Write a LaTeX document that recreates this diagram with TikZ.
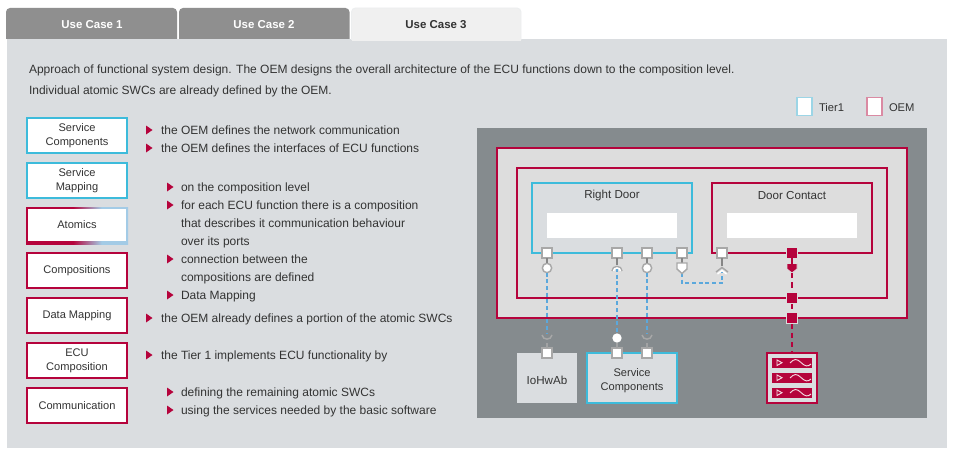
\documentclass[tikz,border=0pt]{standalone}
\usepackage{fontspec}
\setmainfont{Liberation Sans}
\definecolor{oem}{HTML}{B5033C}
\definecolor{tiercy}{HTML}{3DBBDB}
\definecolor{edgeblue}{HTML}{A3CBE6}
\definecolor{panel}{HTML}{DADDE0}
\definecolor{slate}{HTML}{858B8E}
\definecolor{layer}{HTML}{DDDDDD}
\definecolor{tabdark}{HTML}{8F8F8F}
\definecolor{tablight}{HTML}{F0F0F0}
\definecolor{ink}{HTML}{333333}
\definecolor{wire}{HTML}{5BA8DC}
\definecolor{portedge}{HTML}{A8A8A8}
\definecolor{keytier}{HTML}{9CD5E6}
\definecolor{keyoem}{HTML}{DA8AA3}
\pgfdeclarehorizontalshading{atomicedge}{100bp}{color(0bp)=(oem); color(48bp)=(oem); color(62bp)=(edgeblue); color(100bp)=(edgeblue)}
\tikzset{
  every node/.style={text=ink, inner sep=0pt, outer sep=0pt, font=\fontsize{8.3}{10.5}\selectfont},
  tabtext/.style={font=\fontsize{8.6}{10.5}\selectfont\bfseries},
  body/.style={anchor=base west, font=\fontsize{9}{10.5}\selectfont},
  keytext/.style={anchor=base west, font=\fontsize{8.4}{10.5}\selectfont},
  doortext/.style={font=\fontsize{8.7}{10.5}\selectfont},
  legendbox/.style={draw, line width=1.1pt, fill=white, minimum width=11pt, minimum height=13.5pt},
  sidebox/.style={draw, line width=1.5pt, fill=white, minimum width=75pt, minimum height=26pt, align=center},
  oembox/.style={sidebox, draw=oem},
  tierbox/.style={sidebox, draw=tiercy},
  frame/.style={draw=oem, line width=1.5pt, fill=layer},
  portbox/.style={draw=portedge, line width=1.1pt, fill=white, minimum size=7.5pt},
  redport/.style={draw=layer, line width=.9pt, fill=oem, minimum size=8pt},
  lolly/.style={circle, draw=portedge, line width=1.1pt, fill=white, minimum size=7pt},
  ball/.style={circle, fill=white, minimum size=7pt},
  stem/.style={draw=portedge!80!black, line width=1.2pt},
  faintstem/.style={draw=portedge!80!slate, line width=1.2pt},
  dashwire/.style={draw=wire, line width=1.3pt, dash pattern=on 3pt off 2pt},
  reddash/.style={draw=oem, line width=1.5pt, dash pattern=on 4pt off 3pt},
  cup/.style={draw=portedge, line width=1.1pt},
  marker/.style={fill=oem},
  strip/.style={fill=oem},
  glyph/.style={draw=white!85!oem, line width=.7pt},
}
% small red bullet whose left edge sits at the given point
\newcommand{\bullettri}[2]{\fill[marker] (#1,#2-4.5) -- (#1+6.5,#2) -- (#1,#2+4.5) -- cycle;}
% one signal strip of the bus module: triangle and sine wave
\newcommand{\sigstrip}[1]{%
  \fill[strip] (772,#1) rectangle (812,#1+9.5);
  \draw[glyph] (777,#1+2) -- (782,#1+4.7) -- (777,#1+7.5) -- cycle;
  \draw[glyph] (790,#1+5) .. controls (794,#1+0.5) and (797,#1+0.5) .. (801,#1+4.5) .. controls (805,#1+8.5) and (808,#1+9) .. (811,#1+6);
}
\begin{document}
\begin{tikzpicture}[x=.75pt,y=-.75pt]
\useasboundingbox (0,0) rectangle (960,460);
\fill[white] (0,0) rectangle (960,460);

% tab strip and panel
\fill[panel] (7,39) rectangle (947,448);
\fill[tabdark] (6,39) [rounded corners=3pt] -- (6,8) -- (177,8) [sharp corners] -- (177,39) -- cycle;
\fill[tabdark] (179,39) [rounded corners=3pt] -- (179,8) -- (349.5,8) [sharp corners] -- (349.5,39) -- cycle;
\draw[fill=tablight,draw=panel!50!white,line width=.7pt] (351.5,40) [rounded corners=3pt] -- (351.5,8) -- (521,8) [sharp corners] -- (521,40);
\fill[tablight] (352,38) rectangle (520.5,41);
\node[tabtext,text=white] (tabA) at (92,24.5) {Use Case 1};
\node[tabtext,text=white] (tabB) at (264,24.5) {Use Case 2};
\node[tabtext] (tabC) at (436,24.5) {Use Case 3};

% intro
\node[body] (introA) at (29,74) {Approach of functional system design. The OEM designs the overall architecture of the ECU functions down to the composition level.};
\node[body] (introB) at (29,94) {Individual atomic SWCs are already defined by the OEM.};

% legend
\node[legendbox,draw=keytier] (legT) at (804.5,106.5) {};
\node[keytext] (legTt) at (819,111) {Tier1};
\node[legendbox,draw=keyoem] (legO) at (874.5,106.5) {};
\node[keytext] (legOt) at (889,111) {OEM};

% side boxes
\node[tierbox] (sc) at (77,135.5) {Service\\Components};
\node[tierbox] (sm) at (77,180.5) {Service\\Mapping};
\shade[shading=atomicedge] (26,207.5) rectangle (128,244);
\node[fill=white,minimum width=73pt,minimum height=24.5pt] (at) at (77,225) {Atomics};
\node[oembox] (co) at (77,270.5) {Compositions};
\node[oembox] (dm) at (77,315.5) {Data Mapping};
\node[oembox] (ec) at (77,360.5) {ECU\\Composition};
\node[oembox] (cm) at (77,405.5) {Communication};

% bullet lists
\bullettri{146}{130}
\node[body] (l1) at (161,134) {the OEM defines the network communication};
\bullettri{146}{148}
\node[body] (l2) at (161,152) {the OEM defines the interfaces of ECU functions};
\bullettri{167}{187}
\node[body] (l3) at (181,191) {on the composition level};
\bullettri{167}{205}
\node[body] (l4) at (181,209) {for each ECU function there is a composition};
\node[body] (l5) at (181,227) {that describes it communication behaviour};
\node[body] (l6) at (181,245) {over its ports};
\bullettri{167}{259}
\node[body] (l7) at (181,263) {connection between the};
\node[body] (l8) at (181,281) {compositions are defined};
\bullettri{167}{295}
\node[body] (l9) at (181,299) {Data Mapping};
\bullettri{146}{318}
\node[body] (l10) at (161,322) {the OEM already defines a portion of the atomic SWCs};
\bullettri{146}{355}
\node[body] (l11) at (161,359) {the Tier 1 implements ECU functionality by};
\bullettri{167}{392}
\node[body] (l12) at (181,396) {defining the remaining atomic SWCs};
\bullettri{167}{410}
\node[body] (l13) at (181,414) {using the services needed by the basic software};

% architecture view
\fill[slate] (477,128) rectangle (927,418);
\draw[frame] (497,148) rectangle (907,318);
\draw[frame] (517,168) rectangle (887,298);
\draw[draw=tiercy,line width=1.5pt,fill=panel] (532,183) rectangle (692,253);
\draw[frame] (712,183) rectangle (872,253);
\fill[white] (547,213) rectangle (677,238);
\fill[white] (727,213) rectangle (857,238);
\node[doortext] (rd) at (612,195.5) {Right Door};
\node[doortext] (dc) at (792,195.5) {Door Contact};

% basic software blocks
\node[fill=panel,minimum width=45pt,minimum height=37.5pt] (io) at (547,378) {};
\node[doortext] (ioT) at (547,380) {IoHwAb};
\node[draw=tiercy,line width=1.5pt,fill=panel,minimum width=67.5pt,minimum height=37.5pt] (svc) at (632,378) {};
\node[align=center] (svcT) at (632,381) {Service\\Components};
\node[draw=oem,line width=1.5pt,fill=panel,minimum width=37.5pt,minimum height=37.5pt] (bus) at (792,378) {};
\sigstrip{358}
\sigstrip{373}
\sigstrip{388}

% free ends of the wires at the interface symbols
\coordinate (cupA) at (547,334);
\coordinate (sockB) at (617,268);
\coordinate (cupC) at (647,334);
\coordinate (penD) at (682,273);
\coordinate (chevE) at (722,272);

% ports and interface symbols
\node[portbox] (p1) at (547,253) {};
\node[portbox] (p2) at (617,253) {};
\node[portbox] (p3) at (647,253) {};
\node[portbox] (p4) at (682,253) {};
\node[portbox] (p5) at (722,253) {};
\node[portbox] (q1) at (547,353) {};
\node[portbox] (q2) at (617,353) {};
\node[portbox] (q3) at (647,353) {};
\node[lolly] (c1) at (547,268) {};
\node[lolly] (c3) at (647,268) {};
\node[ball] (b2) at (617,338) {};

\draw[dashwire] (c1) -- (cupA);
\draw[dashwire] (sockB) -- (b2);
\draw[dashwire] (c3) -- (cupC);
\draw[dashwire] (penD) -- (682,283) -- (722,283) -- (chevE);

\draw[stem] (p1) -- (c1);
\draw[stem] (p2) -- (617,265);
\draw[stem] (p3) -- (c3);
\draw[stem] (p4) -- (682,263);
\draw[stem] (p5) -- (722,266);
\draw[faintstem] (q1) -- (547,343);
\draw[faintstem] (q2) -- (b2);
\draw[faintstem] (q3) -- (647,343);

% required-port cups and chevrons
\draw[cup] (612,271) .. controls (612,265) and (622,265) .. (622,271);
\draw[cup,draw=white] (613.5,271) .. controls (613.5,267) and (620.5,267) .. (620.5,271);
\draw[cup] (542,335) .. controls (543,340.5) and (551,340.5) .. (552,335);
\draw[cup] (642,335) .. controls (643,340.5) and (651,340.5) .. (652,335);
\draw[cup] (716,272) -- (722,267.5) -- (728,272);
\draw[cup,draw=white] (717.5,274) -- (722,270.5) -- (726.5,274);
\draw[cup,fill=white] (677,263) -- (687,263) -- (687,269) -- (682,273.5) -- (677,269) -- cycle;

% OEM signal path
\node[redport] (r1) at (792,253) {};
\node[redport] (r2) at (792,298) {};
\node[redport] (r3) at (792,318) {};
\coordinate (busTop) at (792,352);
\fill[oem,draw=layer,line width=.6pt] (787,263.5) -- (797,263.5) -- (797,269) -- (792,273) -- (787,269) -- cycle;
\coordinate (penR) at (792,273);
\draw[reddash] (penR) -- (r2);
\draw[reddash] (r2) -- (r3);
\draw[reddash] (r3) -- (busTop);
\draw[draw=oem,line width=1.2pt] (r1) -- (792,264);
\node[redport] at (r2) {};
\node[redport] at (r3) {};
\end{tikzpicture}
\end{document}
